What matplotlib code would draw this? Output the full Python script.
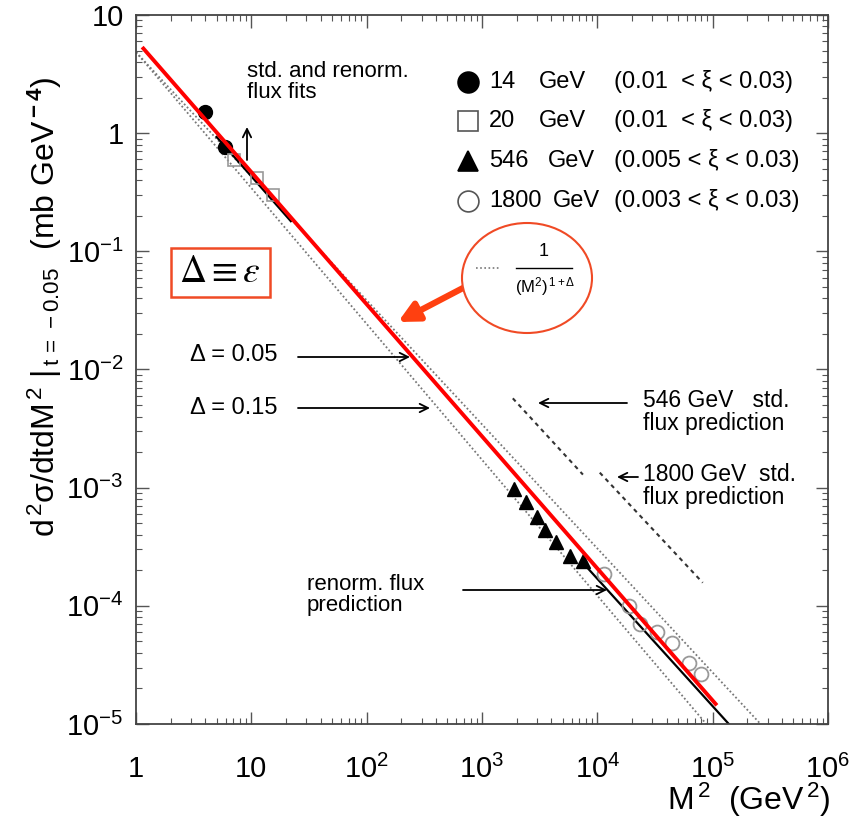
import matplotlib
matplotlib.use("Agg")
import matplotlib.pyplot as plt
from matplotlib.patches import Ellipse, Rectangle
from matplotlib.ticker import LogLocator, NullFormatter

plt.rcParams['font.family'] = ['Liberation Sans', 'DejaVu Sans']
plt.rcParams['mathtext.fontset'] = 'custom'
plt.rcParams['mathtext.rm'] = 'Liberation Sans'
plt.rcParams['mathtext.it'] = 'Liberation Sans:italic'
plt.rcParams['mathtext.bf'] = 'Liberation Sans:bold'

# ---------------- data ----------------
e14_x = [4.0, 5.95]
e14_y = [1.51, 0.76]
e20_x = [7.1, 11.3, 15.5]
e20_y = [0.59, 0.42, 0.30]
e546_x = [1890, 2400, 2990, 3510, 4370, 5780, 7490]
e546_y = [9.8e-4, 7.6e-4, 5.7e-4, 4.4e-4, 3.5e-4, 2.65e-4, 2.4e-4]
e1800_x = [1.14e4, 1.87e4, 2.33e4, 3.27e4, 4.4e4, 6.2e4, 8.0e4]
e1800_y = [1.87e-4, 1.0e-4, 7.0e-5, 6.0e-5, 4.8e-5, 3.3e-5, 2.65e-5]

red_x = [1.16, 1.06e5]
red_y = [5.2, 1.48e-5]
d005_x = [1.0, 2.6e5]
d005_y = [4.85, 1.0e-5]
d015_x = [1.0, 8.8e4]
d015_y = [4.85, 1.0e-5]
renorm_x = [7.5e3, 1.38e5]
renorm_y = [2.31e-4, 1.0e-5]
fitlo_x = [5.0, 22.0]
fitlo_y = [0.93, 0.18]
std546_x = [1850, 7500]
std546_y = [5.7e-3, 1.29e-3]
std1800_x = [1.05e4, 8.2e4]
std1800_y = [1.34e-3, 1.57e-4]

xticks = [1, 10, 1e2, 1e3, 1e4, 1e5, 1e6]
xticklabels = ['1', '10', r'$10^2$', r'$10^3$', r'$10^4$', r'$10^5$', r'$10^6$']
yticks = [10, 1, 1e-1, 1e-2, 1e-3, 1e-4, 1e-5]
yticklabels = ['10', '1', r'$10^{-1}$', r'$10^{-2}$', r'$10^{-3}$', r'$10^{-4}$', r'$10^{-5}$']

legend_markers = ['o', 's', '^', 'o']
legend_fill = ['black', 'white', 'black', 'white']
legend_energy = ['14', '20', '546', '1800']
legend_range = [r'(0.01  < ξ < 0.03)', r'(0.01  < ξ < 0.03)',
                r'(0.005 < ξ < 0.03)', r'(0.003 < ξ < 0.03)']

# ---------------- figure ----------------
W, H = 864, 821
fig = plt.figure(figsize=(W / 100, H / 100), dpi=100)
L, R, T, B = 136, 828, 15, 724
ax = fig.add_axes([L / W, 1 - B / H, (R - L) / W, (B - T) / H])
ax.set_xscale('log')
ax.set_yscale('log')
ax.set_xlim(1, 1e6)
ax.set_ylim(1e-5, 10)


def af(px, py):
    return ((px - L) / (R - L), (B - py) / (B - T))


grey = '#777777'
ax.plot(d005_x, d005_y, color=grey, ls=(0, (1, 1.3)), lw=1.3)
ax.plot(d015_x, d015_y, color=grey, ls=(0, (1, 1.3)), lw=1.3)
ax.plot(renorm_x, renorm_y, color='black', lw=1.6)
ax.plot(fitlo_x, fitlo_y, color='black', lw=1.6)
ax.plot(std546_x, std546_y, color='#333333', ls=(0, (2, 2)), lw=1.5)
ax.plot(std1800_x, std1800_y, color='#333333', ls=(0, (2, 2)), lw=1.5)

ax.plot(e14_x, e14_y, 'o', ms=10, mfc='black', mec='black', ls='none')
ax.plot(e20_x, e20_y, 's', ms=9, mfc='none', mec='#999999', mew=1.2, ls='none')
ax.plot(e546_x, e546_y, '^', ms=10, mfc='black', mec='black', ls='none')
ax.plot(e1800_x, e1800_y, 'o', ms=10, mfc='none', mec='#999999', mew=1.3, ls='none')

ax.plot(red_x, red_y, color='red', lw=2.8, zorder=5)

# axes styling
for s in ax.spines.values():
    s.set_linewidth(1.3)
    s.set_color('#444444')
ax.set_xticks(xticks)
ax.set_xticklabels(xticklabels, fontsize=21)
ax.set_yticks(yticks)
ax.set_yticklabels(yticklabels, fontsize=21)
ax.xaxis.set_minor_locator(LogLocator(base=10, subs=range(2, 10), numticks=20))
ax.yaxis.set_minor_locator(LogLocator(base=10, subs=range(2, 10), numticks=20))
ax.xaxis.set_minor_formatter(NullFormatter())
ax.yaxis.set_minor_formatter(NullFormatter())
ax.tick_params(which='both', direction='in', top=True, right=True, color='#555555')
ax.tick_params(which='major', length=9, width=1.0)
ax.tick_params(which='minor', length=4.5, width=0.8)
ax.tick_params(axis='x', which='major', pad=22)
ax.tick_params(axis='y', which='major', pad=9)

fig.text(45 / W, 1 - 307 / H,
         r'd$^{\,2}$σ/dtdM$^{\,2}$ $|_{\,\rm t\,=\,-0.05}$  (mb GeV$^{\bf -4}$)',
         rotation=90, ha='center', va='center', fontsize=23)
fig.text(830 / W, 1 - 800 / H, r'M$^{\,2}$  (GeV$^{\,2}$)', ha='right', va='center', fontsize=23)

# legend
rows = [82, 121, 161, 201]
gev_x = [539, 539, 548, 553]
for i in range(4):
    fx, fy = af(468, rows[i])
    ax.plot([fx], [fy], marker=legend_markers[i], ms=15 if legend_markers[i] != 's' else 14,
            mfc=legend_fill[i], mec='black' if legend_fill[i] == 'black' else '#555555',
            mew=1.2, transform=ax.transAxes, clip_on=False, ls='none')
    ax.text(*af(489, rows[i]), legend_energy[i], transform=ax.transAxes, fontsize=17, va='center')
    ax.text(*af(gev_x[i], rows[i]), 'GeV', transform=ax.transAxes, fontsize=17, va='center')
    ax.text(*af(614, rows[i]), legend_range[i], transform=ax.transAxes, fontsize=17, va='center')

# annotations
def arrow(p0, p1, lw=1.3, color='black', style='->', ms=15):
    ax.annotate('', xy=af(*p1), xytext=af(*p0), xycoords='axes fraction',
                textcoords='axes fraction',
                arrowprops=dict(arrowstyle=style, lw=lw, color=color, mutation_scale=ms,
                                shrinkA=0, shrinkB=0))

ax.text(*af(247, 82), 'std. and renorm.\nflux fits', transform=ax.transAxes, fontsize=16,
        va='center', ha='left', linespacing=0.95)
arrow((247, 160), (247, 127))

ax.text(*af(190, 355), r'Δ = 0.05', transform=ax.transAxes, fontsize=17, va='center')
arrow((298, 357), (410, 357))
ax.text(*af(190, 408), r'Δ = 0.15', transform=ax.transAxes, fontsize=17, va='center')
arrow((298, 408), (430, 408))

ax.text(*af(643, 412), '546 GeV   std.\nflux prediction', transform=ax.transAxes, fontsize=16.5,
        va='center', linespacing=0.95)
arrow((627, 403), (538, 403))
ax.text(*af(643, 486), '1800 GeV  std.\nflux prediction', transform=ax.transAxes, fontsize=16.5,
        va='center', linespacing=0.95)
arrow((638, 477), (617, 477))

ax.text(*af(307, 595), 'renorm. flux\nprediction', transform=ax.transAxes, fontsize=16,
        va='center', linespacing=0.95)
arrow((463, 590), (607, 590))

# red box with Delta = epsilon
bx0, by0 = af(171, 297)
bx1, by1 = af(270, 248)
ax.add_patch(Rectangle((bx0, by0), bx1 - bx0, by1 - by0, transform=ax.transAxes,
                       fill=False, ec='#f04a25', lw=1.8, clip_on=False, zorder=6))
ax.text(*af(220, 272), r'$\Delta \equiv \varepsilon$', transform=ax.transAxes, fontsize=27,
        ha='center', va='center', math_fontfamily='stix', zorder=7)

# ellipse with formula
ex, ey = af(527, 278)
ax.add_patch(Ellipse((ex, ey), 130 / (R - L), 110 / (B - T), transform=ax.transAxes,
                     fc='white', ec='#f04a25', lw=1.5, zorder=6, clip_on=False))
ax.plot([af(476, 268)[0], af(500, 268)[0]], [af(476, 268)[1]] * 2, transform=ax.transAxes,
        color=grey, ls=(0, (1, 1.5)), lw=1.2, zorder=7)
ax.plot([af(516, 268)[0], af(572, 268)[0]], [af(516, 268)[1]] * 2, transform=ax.transAxes,
        color='black', lw=1.0, zorder=7)
ax.text(*af(544, 252), '1', transform=ax.transAxes, fontsize=13, ha='center', va='center', zorder=7)
ax.text(*af(545, 287), r'(M$^2$)$^{\,1+\Delta}$', transform=ax.transAxes, fontsize=12,
        ha='center', va='center', zorder=7)

# red arrow
arrow((463, 288), (398, 322), lw=4.5, color='#ff4010', style='-|>', ms=30)

fig.savefig('out.png', dpi=100)
